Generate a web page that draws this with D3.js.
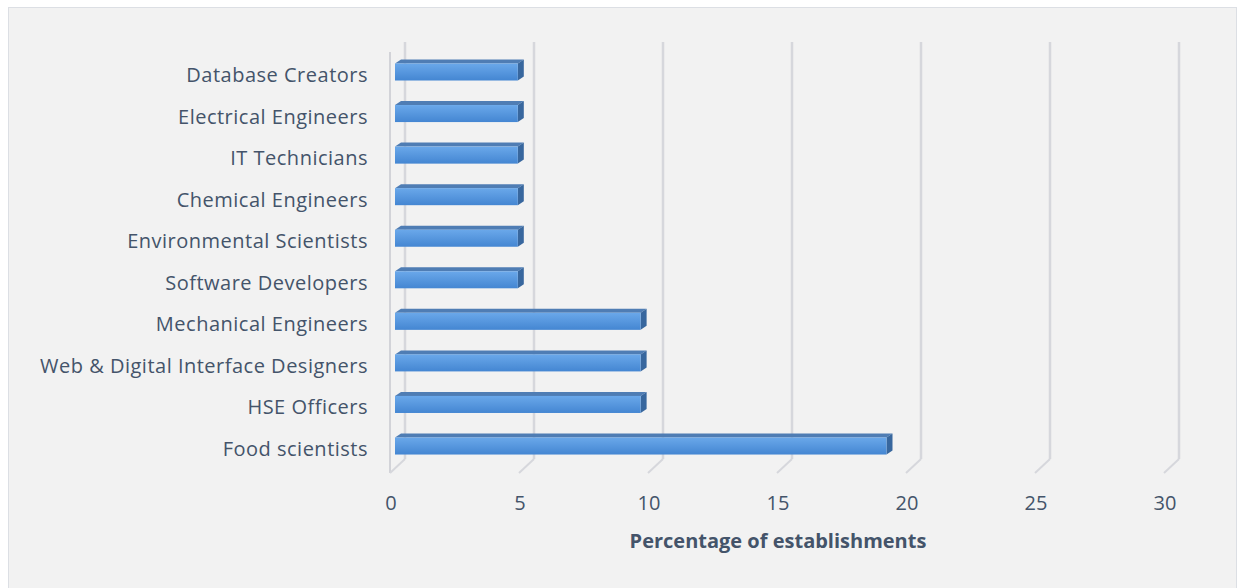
<!DOCTYPE html>
<html><head><meta charset="utf-8">
<script src="https://cdn.jsdelivr.net/npm/d3@7"></script>
<style>html,body{margin:0;padding:0;background:#fff;}svg{display:block;}</style>
</head><body>
<script>
const categories = ["Database Creators","Electrical Engineers","IT Technicians","Chemical Engineers","Environmental Scientists","Software Developers","Mechanical Engineers","Web & Digital Interface Designers","HSE Officers","Food scientists"];
const values = [4.76,4.76,4.76,4.76,4.76,4.76,9.52,9.52,9.52,19.05];
const tickValues = [0,5,10,15,20,25,30];
const axisTitle = "Percentage of establishments";

const W = 1238, H = 588;
const svg = d3.select("body").append("svg").attr("width", W).attr("height", H);
const defs = svg.append("defs");
const g1 = defs.append("linearGradient").attr("id","front").attr("x1",0).attr("y1",0).attr("x2",0).attr("y2",1);
g1.append("stop").attr("offset","0%").attr("stop-color","#6aa8ea");
g1.append("stop").attr("offset","100%").attr("stop-color","#4486d2");

// chart area
svg.append("rect").attr("x",8.5).attr("y",7.5).attr("width",1228).attr("height",590)
  .attr("fill","#f2f2f2").attr("stroke","#dcdfe4").attr("stroke-width",1);

const font = "'Open Sans', sans-serif";
const textColor = "#44546a";

const xFront = d3.scaleLinear().domain([0,30]).range([390,1164]);
const xBack = d3.scaleLinear().domain([0,30]).range([405,1179]);
const xBar = d3.scaleLinear().domain([0,30]).range([395,1169]);
const y = d3.scaleBand().domain(categories).range([51,467]).paddingInner(0.59).paddingOuter(0.3);

const wallTop = 42, wallBottom = 459, frontTop = 52, frontBottom = 473;
const grid = svg.append("g");
grid.append("line").attr("x1",xFront(0)).attr("x2",xFront(0)).attr("y1",frontTop).attr("y2",frontBottom)
  .attr("stroke","#d2d3d8").attr("stroke-width",2);
tickValues.forEach(t=>{
  grid.append("line").attr("x1",xBack(t)).attr("x2",xBack(t)).attr("y1",wallTop).attr("y2",wallBottom)
    .attr("stroke","#d6d7dc").attr("stroke-width",2.5);
  grid.append("line").attr("x1",xBack(t)).attr("x2",xFront(t)).attr("y1",wallBottom).attr("y2",frontBottom)
    .attr("stroke","#d6d7dc").attr("stroke-width",2);
});

const dx = 6, dy = 4;
const bars = svg.append("g");
categories.forEach((c,i)=>{
  const v = values[i];
  const x0 = xBar(0), x1 = xBar(v), yt = y(c), h = y.bandwidth();
  bars.append("polygon").attr("points",[[x0,yt],[x1,yt],[x1+dx,yt-dy],[x0+dx,yt-dy]].map(p=>p.join(",")).join(" "))
    .attr("fill","#4f7db4");
  bars.append("polygon").attr("points",[[x1,yt],[x1+dx,yt-dy],[x1+dx,yt+h-dy],[x1,yt+h]].map(p=>p.join(",")).join(" "))
    .attr("fill","#38679e");
  bars.append("rect").attr("x",x0).attr("y",yt).attr("width",x1-x0).attr("height",h).attr("fill","url(#front)");
});

svg.append("g").selectAll("text").data(categories).join("text")
  .attr("x",368).attr("y",d=>y(d)+y.bandwidth()/2+3).attr("dy","0.35em")
  .attr("text-anchor","end").attr("font-family",font).attr("font-size",20).attr("letter-spacing",0.5).attr("fill",textColor)
  .text(d=>d);

svg.append("g").selectAll("text").data(tickValues).join("text")
  .attr("x",d=>xFront(d)+1).attr("y",503).attr("dy","0.35em")
  .attr("text-anchor","middle").attr("font-family",font).attr("font-size",20).attr("fill",textColor)
  .text(d=>d);

svg.append("text").attr("x",778).attr("y",541).attr("dy","0.35em").attr("text-anchor","middle")
  .attr("font-family",font).attr("font-size",20).attr("font-weight","bold").attr("fill",textColor)
  .text(axisTitle);
</script>
</body></html>
